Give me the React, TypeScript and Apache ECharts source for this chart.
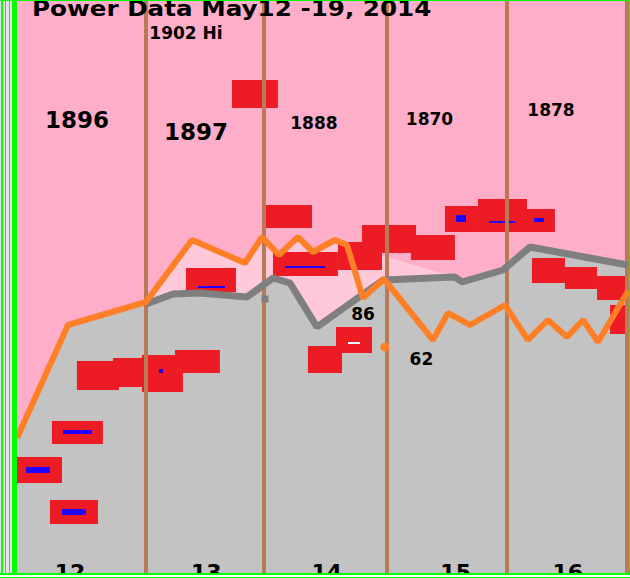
import React, { useEffect, useRef } from "react";
import * as echarts from "echarts";

// ---- data (x = day of May, y = power units) ----
const dayLabels = ["12", "13", "14", "15", "16"];
const dayLabelAt = [11.87, 13.0, 14.0, 15.07, 16.0];
const dayBoundaries = [12.5, 13.48, 14.5, 15.49, 16.49];

const orangeLine: number[][] = [
  [11.43, 27], [11.853, 49.6], [12.5, 54.2], [12.882, 66.6], [13.322, 62],
  [13.463, 67.2], [13.604, 63.6], [13.761, 67.2], [13.886, 64.2], [14.068, 66.6],
  [14.168, 65.6], [14.301, 55], [14.475, 58.8], [14.882, 46.6], [15.006, 52],
  [15.189, 49.6], [15.479, 53.6], [15.67, 46.6], [15.836, 50.6], [15.994, 47.2],
  [16.127, 50.6], [16.251, 46.2], [16.5, 56.4],
];

const grayLine: number[][] = [
  [12.5, 53.8], [12.724, 55.8], [12.948, 56], [13.338, 55.2], [13.554, 59],
  [13.695, 58], [13.919, 49.2], [14.467, 58.6], [15.064, 59.2], [15.122, 58.2],
  [15.463, 60.6], [15.687, 65.2], [16.5, 61.6],
];

const grayFillLead: number[][] = [[11.43, 27], [11.853, 49.6]];
const pinkFillTail: number[][] = [[15.09, 59]];

// boxes: [dayFrom, dayTo, yFrom, yTo]
const redBoxes: number[][] = [
  [13.214, 13.595, 93, 98.6],
  [13.463, 13.878, 69, 73.6],
  [12.832, 13.247, 56.2, 61],
  [13.554, 14.093, 59.4, 64.2],
  [11.927, 12.276, 36.6, 42.4],
  [12.226, 12.492, 37.2, 43],
  [12.467, 12.807, 36.2, 43.6],
  [12.741, 13.114, 40, 44.6],
  [11.72, 12.143, 25.8, 30.4],
  [11.413, 11.803, 18, 23.2],
  [11.703, 12.102, 9.8, 14.6],
  [13.844, 14.127, 40, 45.4],
  [14.077, 14.376, 44, 49.2],
  [14.293, 14.741, 64, 69.6],
  [14.093, 14.459, 60.6, 66.2],
  [14.699, 15.064, 62.6, 67.6],
  [14.981, 15.255, 68.2, 73.4],
  [15.255, 15.662, 68.2, 74.8],
  [15.662, 15.894, 68.2, 72.8],
  [15.703, 15.977, 58, 63],
  [15.977, 16.243, 56.8, 61.2],
  [16.243, 16.5, 54.6, 59.4],
  [16.351, 16.5, 47.8, 53.6],
];

const blueDashes: number[][] = [
  [11.811, 12.052, 27.8, 28.6],
  [11.504, 11.703, 20, 21.2],
  [11.803, 12.002, 11.6, 12.8],
  [15.073, 15.156, 70.2, 71.6],
  [15.72, 15.803, 70.2, 71],
  [15.346, 15.562, 70, 70.4],
  [12.932, 13.156, 57, 57.4],
  [13.654, 13.985, 61, 61.4],
  [12.608, 12.641, 40, 40.8],
];

const whiteDashes: number[][] = [[14.176, 14.276, 45.8, 46.2]];

const bigLabels = ["1896", "1897"];
const bigLabelAt: number[][] = [[11.927, 90.6], [12.915, 88.3]];
const smallLabels = ["1902 Hi", "1888", "1870", "1878", "86", "62"];
const smallLabelAt: number[][] = [
  [12.832, 108], [13.894, 90.1], [14.853, 90.8], [15.861, 92.6], [14.301, 51.9], [14.786, 42.8],
];

const orangeDot: number[][] = [[14.483, 45.2]];
const grayDot: number[][] = [[13.488, 54.8]];

const FONT = "'DejaVu Sans', sans-serif";

function boxSeries(name: string, data: number[][], color: string, z: number) {
  return {
    name,
    type: "custom",
    z,
    encode: { x: [0, 1], y: [2, 3] },
    data,
    renderItem: (_p: any, api: any) => {
      const a = api.coord([api.value(0), api.value(3)]);
      const b = api.coord([api.value(1), api.value(2)]);
      return {
        type: "rect",
        shape: { x: a[0], y: a[1], width: b[0] - a[0], height: b[1] - a[1] },
        style: { fill: color },
      };
    },
  };
}

const stripe = (x: number, w: number) => ({
  type: "rect",
  z: 101,
  shape: { x, y: 0, width: w, height: 578 },
  style: { fill: "#00ff00" },
});

function labelSeries(name: string, texts: string[], pos: number[][], size: number) {
  return {
    name,
    type: "scatter",
    z: 8,
    symbolSize: 0,
    itemStyle: { opacity: 1 },
    data: pos.map((p, i) => ({ value: p, name: texts[i] })),
    label: {
      show: true,
      position: "inside",
      formatter: (p: any) => p.name,
      fontFamily: FONT,
      fontWeight: "bold",
      fontSize: size,
      color: "#000000",
      opacity: 1,
      textBorderWidth: 0,
    },
  };
}

export default function App() {
  const ref = useRef<HTMLDivElement>(null);
  useEffect(() => {
    document.body.style.margin = "0";
    const chart = echarts.init(ref.current!, null, { renderer: "svg" });
    const grayFill = grayFillLead.concat(grayLine.slice(0));
    const pinkFill = orangeLine
      .filter((p) => p[0] >= 12.5 && p[0] <= 14.17)
      .concat(pinkFillTail);
    chart.setOption({
      animation: false,
      backgroundColor: "#ffffff",
      grid: {
        left: 17,
        right: 2,
        top: 0,
        bottom: 5,
        show: true,
        backgroundColor: "#ffaec9",
        borderWidth: 0,
        containLabel: false,
        outerBoundsMode: "none",
      },
      xAxis: {
        type: "value",
        z: 20,
        min: 11.43,
        max: 16.5,
        splitLine: { show: false },
        axisLine: { show: false },
        axisTick: { show: false },
        axisLabel: {
          customValues: dayLabelAt,
          margin: -12,
          fontFamily: FONT,
          fontWeight: "bold",
          fontSize: 22,
          color: "#000",
          formatter: (v: number) => {
            const i = dayLabelAt.findIndex((a) => Math.abs(a - v) < 1e-6);
            return i >= 0 ? dayLabels[i] : "";
          },
        },
      },
      yAxis: {
        type: "value",
        min: 0,
        max: 114.6,
        show: false,
        splitLine: { show: false },
      },
      series: [
        {
          name: "pinkFill",
          type: "line",
          z: 1,
          symbol: "none",
          data: pinkFill,
          lineStyle: { width: 0, opacity: 0 },
          areaStyle: { color: "#ffc9da", opacity: 1 },
        },
        {
          name: "grayFill",
          type: "line",
          z: 2,
          symbol: "none",
          data: grayFill,
          lineStyle: { width: 0, opacity: 0 },
          areaStyle: { color: "#c3c3c3", opacity: 1 },
        },
        boxSeries("red", redBoxes, "#ed1c24", 3),
        boxSeries("blue", blueDashes, "#2000ff", 4),
        boxSeries("white", whiteDashes, "#ffffff", 4),
        {
          name: "days",
          type: "scatter",
          z: 5,
          data: grayDot,
          symbol: "rect",
          symbolSize: 7,
          itemStyle: { color: "#7f7f7f", opacity: 1 },
          markLine: {
            z: 5,
            silent: true,
            symbol: ["none", "none"],
            label: { show: false },
            lineStyle: { color: "#b97a57", width: 4, type: "solid" },
            data: dayBoundaries.map((d) => ({ xAxis: d })),
          },
        },
        {
          name: "gray",
          type: "line",
          z: 6,
          symbol: "none",
          data: grayLine,
          lineStyle: { color: "#7f7f7f", width: 7 },
        },
        {
          name: "orange",
          type: "line",
          z: 7,
          symbol: "none",
          data: orangeLine,
          lineStyle: { color: "#ff7f27", width: 6 },
        },
        {
          name: "orangeDot",
          type: "scatter",
          z: 7,
          data: orangeDot,
          symbolSize: 9,
          itemStyle: { color: "#ff7f27", opacity: 1 },
        },
        labelSeries("bigLabels", bigLabels, bigLabelAt, 23),
        labelSeries("smallLabels", smallLabels, smallLabelAt, 17),
      ],
      graphic: [
        {
          type: "text",
          z: 100,
          x: 32,
          y: -3,
          scaleX: 1.12,
          style: {
            text: "Power Data May12 -19, 2014",
            font: `bold 22px ${FONT}`,
            fill: "#000",
          },
        },
        { type: "rect", z: 100, shape: { x: 0, y: 0, width: 17, height: 578 }, style: { fill: "#e4e4e4" } },
        stripe(1, 2),
        stripe(5, 1),
        stripe(9, 1),
        stripe(12, 5),
        { type: "rect", z: 101, shape: { x: 0, y: 0, width: 630, height: 1 }, style: { fill: "#00ff00" } },
        { type: "rect", z: 101, shape: { x: 629, y: 0, width: 1, height: 578 }, style: { fill: "#00ff00" } },
        { type: "rect", z: 101, shape: { x: 0, y: 573, width: 630, height: 5 }, style: { fill: "#ffffff" } },
        { type: "rect", z: 102, shape: { x: 0, y: 573, width: 630, height: 2 }, style: { fill: "#00ff00" } },
        { type: "rect", z: 102, shape: { x: 0, y: 577, width: 630, height: 1 }, style: { fill: "#00ff00" } },
      ],
    });
    return () => chart.dispose();
  }, []);
  return <div ref={ref} style={{ width: 630, height: 578 }} />;
}
